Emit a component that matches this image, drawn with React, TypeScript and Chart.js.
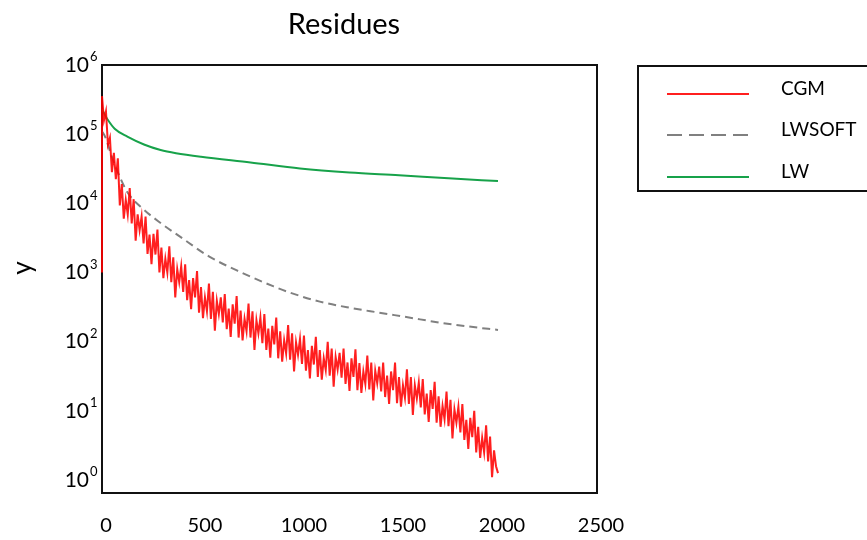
import React, { useEffect, useRef } from 'react';
import { Chart, registerables } from 'chart.js';

Chart.register(...registerables);

const titleText = 'Residues';
const yAxisLabel = 'y';
const seriesNames = ['CGM', 'LWSOFT', 'LW'];
const seriesColors = ['rgba(255,0,0,0.88)', '#808080', '#17a24a'];
const xTickValues = [0, 500, 1000, 1500, 2000, 2500];
const yTickExponents = [0, 1, 2, 3, 4, 5, 6];

// CGM: first sample, then one sample every 10 iterations (log10 of residue)
const cgmFirst = { x: 0, y: 1000 };
const cgmIterStep = 10;
const cgmExponent = [
  5.55, 5.2, 5.33, 4.85, 4.95, 4.45, 4.73, 4.35, 4.65, 3.97,
  4.28, 3.78, 4.05, 3.84, 4.22, 3.71, 4.06, 3.46, 3.84, 3.61,
  3.81, 3.42, 3.81, 3.27, 3.55, 3.12, 3.56, 3.26, 3.62, 3.0,
  3.36, 2.92, 3.2, 3.0, 3.38, 2.86, 3.22, 2.64, 3.05, 2.86,
  3.09, 2.72, 3.12, 2.6, 2.89, 2.47, 2.92, 2.64, 3.02, 2.42,
  2.79, 2.34, 2.64, 2.44, 2.84, 2.33, 2.72, 2.16, 2.59, 2.4,
  2.64, 2.28, 2.69, 2.18, 2.48, 2.07, 2.54, 2.26, 2.66, 2.06,
  2.45, 2.02, 2.33, 2.15, 2.55, 2.06, 2.44, 1.88, 2.31, 2.12,
  2.35, 1.98, 2.4, 1.88, 2.19, 1.77, 2.23, 1.96, 2.35, 1.76,
  2.15, 1.71, 2.02, 1.83, 2.24, 1.74, 2.12, 1.57, 1.99, 1.81,
  2.04, 1.68, 2.09, 1.58, 1.88, 1.47, 1.94, 1.67, 2.07, 1.49,
  1.88, 1.45, 1.76, 1.59, 2.0, 1.51, 1.9, 1.35, 1.78, 1.6,
  1.84, 1.48, 1.9, 1.39, 1.7, 1.29, 1.76, 1.49, 1.89, 1.3,
  1.69, 1.26, 1.57, 1.39, 1.8, 1.31, 1.7, 1.15, 1.58, 1.4,
  1.64, 1.28, 1.7, 1.2, 1.51, 1.1, 1.57, 1.3, 1.7, 1.11,
  1.49, 1.06, 1.37, 1.19, 1.6, 1.1, 1.49, 0.94, 1.37, 1.18,
  1.41, 1.05, 1.46, 0.95, 1.25, 0.84, 1.3, 1.03, 1.42, 0.83,
  1.21, 0.77, 1.07, 0.88, 1.28, 0.78, 1.16, 0.6, 1.02, 0.83,
  1.06, 0.69, 1.1, 0.58, 0.87, 0.45, 0.9, 0.62, 1.0, 0.4,
  0.77, 0.32, 0.61, 0.4, 0.79, 0.27, 0.63, 0.04, 0.43, 0.2,
  0.1,
];

const lwsoftIter = [0, 15, 49, 89, 128, 212, 296, 394, 542, 704, 867, 951, 1100, 1250, 1400, 1550, 1700, 1850, 2000];
const lwsoftValues = [110000, 93000, 48000, 24500, 14500, 8100, 5200, 3300, 1700, 1000, 630, 510, 380, 310, 263, 224, 190, 166, 148];

const lwIter = [0, 15, 30, 64, 128, 212, 296, 374, 500, 750, 1000, 1250, 1500, 1750, 2000];
const lwValues = [230000, 190000, 160000, 120000, 92000, 71000, 59000, 53000, 47000, 39000, 32000, 28000, 25500, 23000, 21000];

const FONT = 'Lato, "Open Sans", sans-serif';

export default function App() {
  const canvasRef = useRef<HTMLCanvasElement | null>(null);

  useEffect(() => {
    const canvas = canvasRef.current;
    if (!canvas) return;

    const cgmData = [cgmFirst, ...cgmExponent.map((e, i) => ({ x: i * cgmIterStep, y: Math.pow(10, e) }))];
    const lwsoftData = lwsoftIter.map((x, i) => ({ x, y: lwsoftValues[i] }));
    const lwData = lwIter.map((x, i) => ({ x, y: lwValues[i] }));

    const decorPlugin = {
      id: 'decor',
      beforeDatasetsDraw(chart: any) {
        const ctx = chart.ctx as CanvasRenderingContext2D;
        const area = chart.chartArea;
        ctx.save();
        ctx.strokeStyle = '#111';
        ctx.lineWidth = 2;
        ctx.strokeRect(area.left, area.top, area.right - area.left, area.bottom - area.top);
        ctx.restore();
      },
      afterDraw(chart: any) {
        const ctx = chart.ctx as CanvasRenderingContext2D;
        const yScale = chart.scales.y;
        ctx.save();

        // title
        ctx.fillStyle = '#000';
        ctx.font = `29px ${FONT}`;
        ctx.textAlign = 'center';
        ctx.textBaseline = 'alphabetic';
        ctx.fillText(titleText, 344, 34);

        // y tick labels 10^n
        yTickExponents.forEach((e) => {
          const py = yScale.getPixelForValue(Math.pow(10, e));
          ctx.font = `21px ${FONT}`;
          ctx.textAlign = 'right';
          ctx.textBaseline = 'middle';
          ctx.fillText('10', 89, py);
          ctx.font = `13px ${FONT}`;
          ctx.textAlign = 'left';
          ctx.fillText(String(e), 90, py - 8);
        });

        // y axis label
        ctx.save();
        ctx.translate(23, 268);
        ctx.rotate(-Math.PI / 2);
        ctx.font = `26px ${FONT}`;
        ctx.textAlign = 'center';
        ctx.textBaseline = 'middle';
        ctx.fillText(yAxisLabel, 0, 0);
        ctx.restore();

        // legend
        ctx.strokeStyle = '#111';
        ctx.lineWidth = 2;
        ctx.strokeRect(638, 66, 260, 125);
        const rows = [94, 135, 177];
        const dashes = [[], [15, 7], []];
        seriesNames.forEach((name, i) => {
          ctx.save();
          ctx.strokeStyle = seriesColors[i];
          ctx.lineWidth = 2;
          ctx.setLineDash(dashes[i]);
          ctx.beginPath();
          ctx.moveTo(667, rows[i]);
          ctx.lineTo(749, rows[i]);
          ctx.stroke();
          ctx.restore();
          ctx.fillStyle = '#000';
          ctx.font = `19px ${FONT}`;
          ctx.textAlign = 'left';
          ctx.textBaseline = 'alphabetic';
          ctx.fillText(name, 781, rows[i] + 1);
        });
        ctx.restore();
      },
    };

    const chart = new Chart(canvas, {
      type: 'line',
      data: {
        datasets: [
          {
            label: seriesNames[0],
            data: cgmData,
            borderColor: seriesColors[0],
            borderWidth: 2,
            pointRadius: 0,
            tension: 0,
            clip: 3,
          },
          {
            label: seriesNames[1],
            data: lwsoftData,
            borderColor: seriesColors[1],
            borderWidth: 2,
            borderDash: [8, 5],
            pointRadius: 0,
            cubicInterpolationMode: 'monotone',
          },
          {
            label: seriesNames[2],
            data: lwData,
            borderColor: seriesColors[2],
            borderWidth: 2,
            pointRadius: 0,
            cubicInterpolationMode: 'monotone',
          },
        ],
      },
      options: {
        responsive: false,
        devicePixelRatio: 1,
        animation: false,
        layout: { padding: { top: 65, right: 270, left: 0, bottom: 0 } },
        plugins: {
          legend: { display: false },
          title: { display: false },
          tooltip: { enabled: false },
        },
        scales: {
          x: {
            type: 'linear',
            min: 0,
            max: 2500,
            afterBuildTicks: (s: any) => {
              s.ticks = xTickValues.map((v) => ({ value: v }));
            },
            afterFit: (s: any) => {
              s.height = 47;
            },
            ticks: {
              autoSkip: false,
              maxRotation: 0,
              color: '#000',
              font: { family: FONT, size: 20 },
              padding: 21,
              labelOffset: 4,
              callback: (v: any) => String(v),
            },
            grid: { display: false, drawTicks: false },
            border: { display: false },
          },
          y: {
            type: 'logarithmic',
            min: 0.65,
            max: 1000000,
            afterFit: (s: any) => {
              s.width = 102;
            },
            ticks: { display: false },
            grid: { display: false, drawTicks: false },
            border: { display: false },
          },
        },
      },
      plugins: [decorPlugin],
    } as any);

    return () => chart.destroy();
  }, []);

  return (
    <div style={{ position: 'absolute', left: 0, top: 0, width: 867, height: 540, background: '#fff' }}>
      <canvas ref={canvasRef} width={867} height={540} style={{ width: 867, height: 540, display: 'block' }} />
    </div>
  );
}
